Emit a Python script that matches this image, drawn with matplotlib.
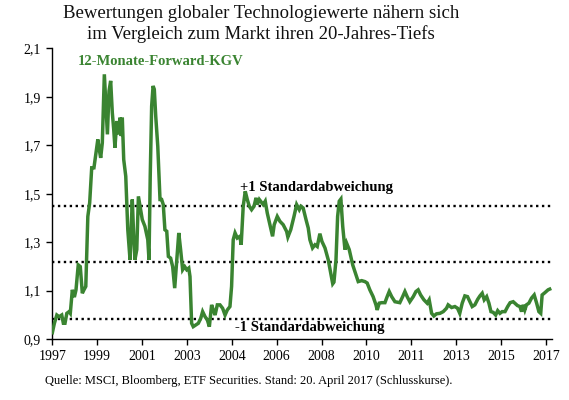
import matplotlib.pyplot as plt
import numpy as np

# month index since Jan 1997
months = [0.0, 1.0, 2.2, 3.3, 4.6, 5.4, 6.2, 7.1, 8.2, 8.8, 9.8, 10.8, 11.6, 12.7, 13.7,
          14.7, 15.5, 16.4, 17.4, 18.3, 19.3, 20.4, 21.4, 22.3, 23.0, 23.7, 24.5, 25.5,
          26.3, 27.0, 27.8, 28.6, 29.4, 30.1, 30.7, 31.6, 32.4, 33.2, 33.8, 34.3, 35.0,
          36.0, 37.0, 38.1, 39.2, 39.9, 40.5, 41.4, 42.2, 43.0, 44.1, 45.4, 46.8, 47.4,
          48.0, 48.7, 49.4, 50.0, 50.7, 51.7, 52.8, 53.6, 54.4, 55.2, 56.1, 56.9, 58.0,
          59.0, 60.0, 61.0, 62.0, 62.9, 63.9, 64.9, 65.9, 66.9, 67.5, 68.3, 69.1, 70.4,
          71.6, 72.8, 73.7, 74.9, 76.0, 77.0, 78.1, 78.9, 79.8, 80.9, 82.2, 83.5, 84.7,
          85.8, 87.1, 87.9, 88.7, 89.6, 90.7, 92.0, 92.6, 93.6, 94.6, 95.6, 96.6, 97.7,
          98.9, 99.9, 100.5, 101.5, 103.4, 104.4, 105.4, 106.7, 108.0, 108.8, 110.3,
          111.6, 113.2, 114.9, 115.5, 116.9, 118.5, 119.8, 121.1, 121.9, 123.0, 124.4,
          125.5, 126.3, 127.6, 128.8, 129.9, 131.2, 132.2, 133.7, 135.3, 136.5, 137.5,
          138.1, 139.1, 139.9, 140.7, 141.5, 142.4, 143.5, 144.3, 145.6, 147.3, 148.9,
          150.0, 151.7, 153.3, 154.4, 155.7, 157.3, 158.7, 159.3, 160.3, 161.5, 163.1,
          164.2, 165.2, 166.4, 168.0, 170.4, 171.8, 172.9, 174.0, 175.3, 177.0, 178.3,
          179.4, 180.6, 182.2, 183.8, 184.8, 186.0, 187.1, 188.4, 190.1, 191.7, 193.3,
          194.1, 195.8, 197.4, 198.7, 199.8, 201.0, 202.3, 203.6, 204.8, 205.9, 207.2,
          208.6, 209.7, 210.8, 211.8, 213.0, 214.1, 215.1, 216.2, 217.4, 218.4, 219.5,
          220.6, 222.0, 223.3, 224.5, 226.0, 227.2, 228.1, 229.3, 230.1, 230.9, 231.7,
          232.5, 233.7, 235.0, 236.3, 237.5, 238.6, 239.5, 240.2, 241.5, 243.1, 243.9]
kgv = [0.926, 0.965, 0.999, 0.992, 0.999, 0.965, 0.965, 1.006, 1.013, 1.006, 1.103, 1.073,
       1.103, 1.206, 1.199, 1.089, 1.103, 1.117, 1.406, 1.462, 1.607, 1.607, 1.669, 1.724,
       1.683, 1.648, 1.710, 1.993, 1.862, 1.745, 1.924, 1.966, 1.835, 1.765, 1.690, 1.800,
       1.745, 1.814, 1.738, 1.814, 1.641, 1.572, 1.351, 1.227, 1.476, 1.324, 1.227, 1.269,
       1.489, 1.448, 1.393, 1.365, 1.310, 1.227, 1.572, 1.862, 1.945, 1.931, 1.820, 1.696,
       1.476, 1.476, 1.455, 1.351, 1.345, 1.241, 1.234, 1.199, 1.110, 1.227, 1.338, 1.269,
       1.186, 1.199, 1.186, 1.193, 1.158, 0.965, 0.951, 0.958, 0.965, 0.986, 1.013, 0.992,
       0.979, 0.951, 1.041, 1.020, 0.999, 1.041, 1.041, 1.027, 0.999, 1.020, 1.034, 1.117,
       1.310, 1.338, 1.317, 1.324, 1.289, 1.448, 1.510, 1.476, 1.448, 1.434, 1.448, 1.483,
       1.455, 1.476, 1.455, 1.469, 1.420, 1.372, 1.324, 1.372, 1.406, 1.386, 1.372, 1.344,
       1.321, 1.351, 1.406, 1.455, 1.434, 1.448, 1.441, 1.393, 1.358, 1.310, 1.276, 1.289,
       1.282, 1.335, 1.303, 1.276, 1.227, 1.172, 1.128, 1.135, 1.227, 1.406, 1.469, 1.478,
       1.365, 1.269, 1.296, 1.269, 1.206, 1.165, 1.137, 1.141, 1.137, 1.131, 1.103, 1.075,
       1.041, 1.020, 1.048, 1.050, 1.050, 1.075, 1.096, 1.075, 1.054, 1.050, 1.075, 1.096,
       1.075, 1.054, 1.075, 1.096, 1.103, 1.082, 1.062, 1.048, 1.062, 1.006, 0.995, 1.004,
       1.006, 1.013, 1.027, 1.041, 1.030, 1.034, 1.027, 1.006, 1.048, 1.078, 1.075, 1.054,
       1.034, 1.041, 1.064, 1.078, 1.089, 1.062, 1.075, 1.048, 1.013, 1.010, 0.999, 1.017,
       1.006, 1.013, 1.013, 1.034, 1.050, 1.054, 1.045, 1.038, 1.034, 1.013, 1.041, 1.020,
       1.041, 1.048, 1.069, 1.082, 1.048, 1.013, 1.006, 1.082, 1.091, 1.103, 1.106]

mean_kgv = 1.216
std_kgv = 0.232

tick_pos = [0, 22, 44, 66, 88, 110, 132, 154, 176, 198, 220, 242]
tick_labels = ['1997', '1999', '2001', '2003', '2004', '2006', '2008', '2010',
               '2011', '2013', '2015', '2017']
yticks = [0.9, 1.1, 1.3, 1.5, 1.7, 1.9, 2.1]

green = '#3a8431'
serif = ['Liberation Serif', 'DejaVu Serif']
plt.rcParams['font.family'] = serif

fig = plt.figure(figsize=(5.69, 4.0), dpi=100)
ax = fig.add_axes([0.092, 0.1525, 0.878, 0.7265])

for level in (mean_kgv + std_kgv, mean_kgv, mean_kgv - std_kgv):
    ax.axhline(level, color='black', lw=1.7, ls=(0, (1, 1.5)), zorder=1)

ax.plot(months, kgv, color=green, lw=2.5, solid_joinstyle='miter', zorder=3)

ax.set_xlim(0, 245)
ax.set_ylim(0.9, 2.1)
ax.set_yticks(yticks)
ax.set_yticklabels([f'{v:.1f}'.replace('.', ',') for v in yticks])
ax.set_xticks(tick_pos)
ax.set_xticklabels(tick_labels)
ax.tick_params(axis='both', labelsize=10, length=4, width=1, color='black', pad=4)
for s in ('top', 'right'):
    ax.spines[s].set_visible(False)
for s in ('left', 'bottom'):
    ax.spines[s].set_linewidth(1)

ax.text(12.5, 2.045, '12-Monate-Forward-KGV', color=green, fontsize=10.5,
        fontweight='bold', va='center', ha='left')
ax.text(92, 1.525, '+1 Standardabweichung', fontsize=10.5, fontweight='bold',
        va='center', ha='left')
ax.text(89.5, 0.948, '-1 Standardabweichung', fontsize=10.5, fontweight='bold',
        va='center', ha='left')

fig.text(0.459, 0.988, 'Bewertungen globaler Technologiewerte nähern sich\n'
         'im Vergleich zum Markt ihren 20-Jahres-Tiefs', ha='center', va='top',
         fontsize=13.5, linespacing=1.25, color='#111111')
fig.text(0.079, 0.047, 'Quelle: MSCI, Bloomberg, ETF Securities. Stand: 20. April 2017 (Schlusskurse).',
         ha='left', va='center', fontsize=9)

fig.savefig('out.png', dpi=100)
